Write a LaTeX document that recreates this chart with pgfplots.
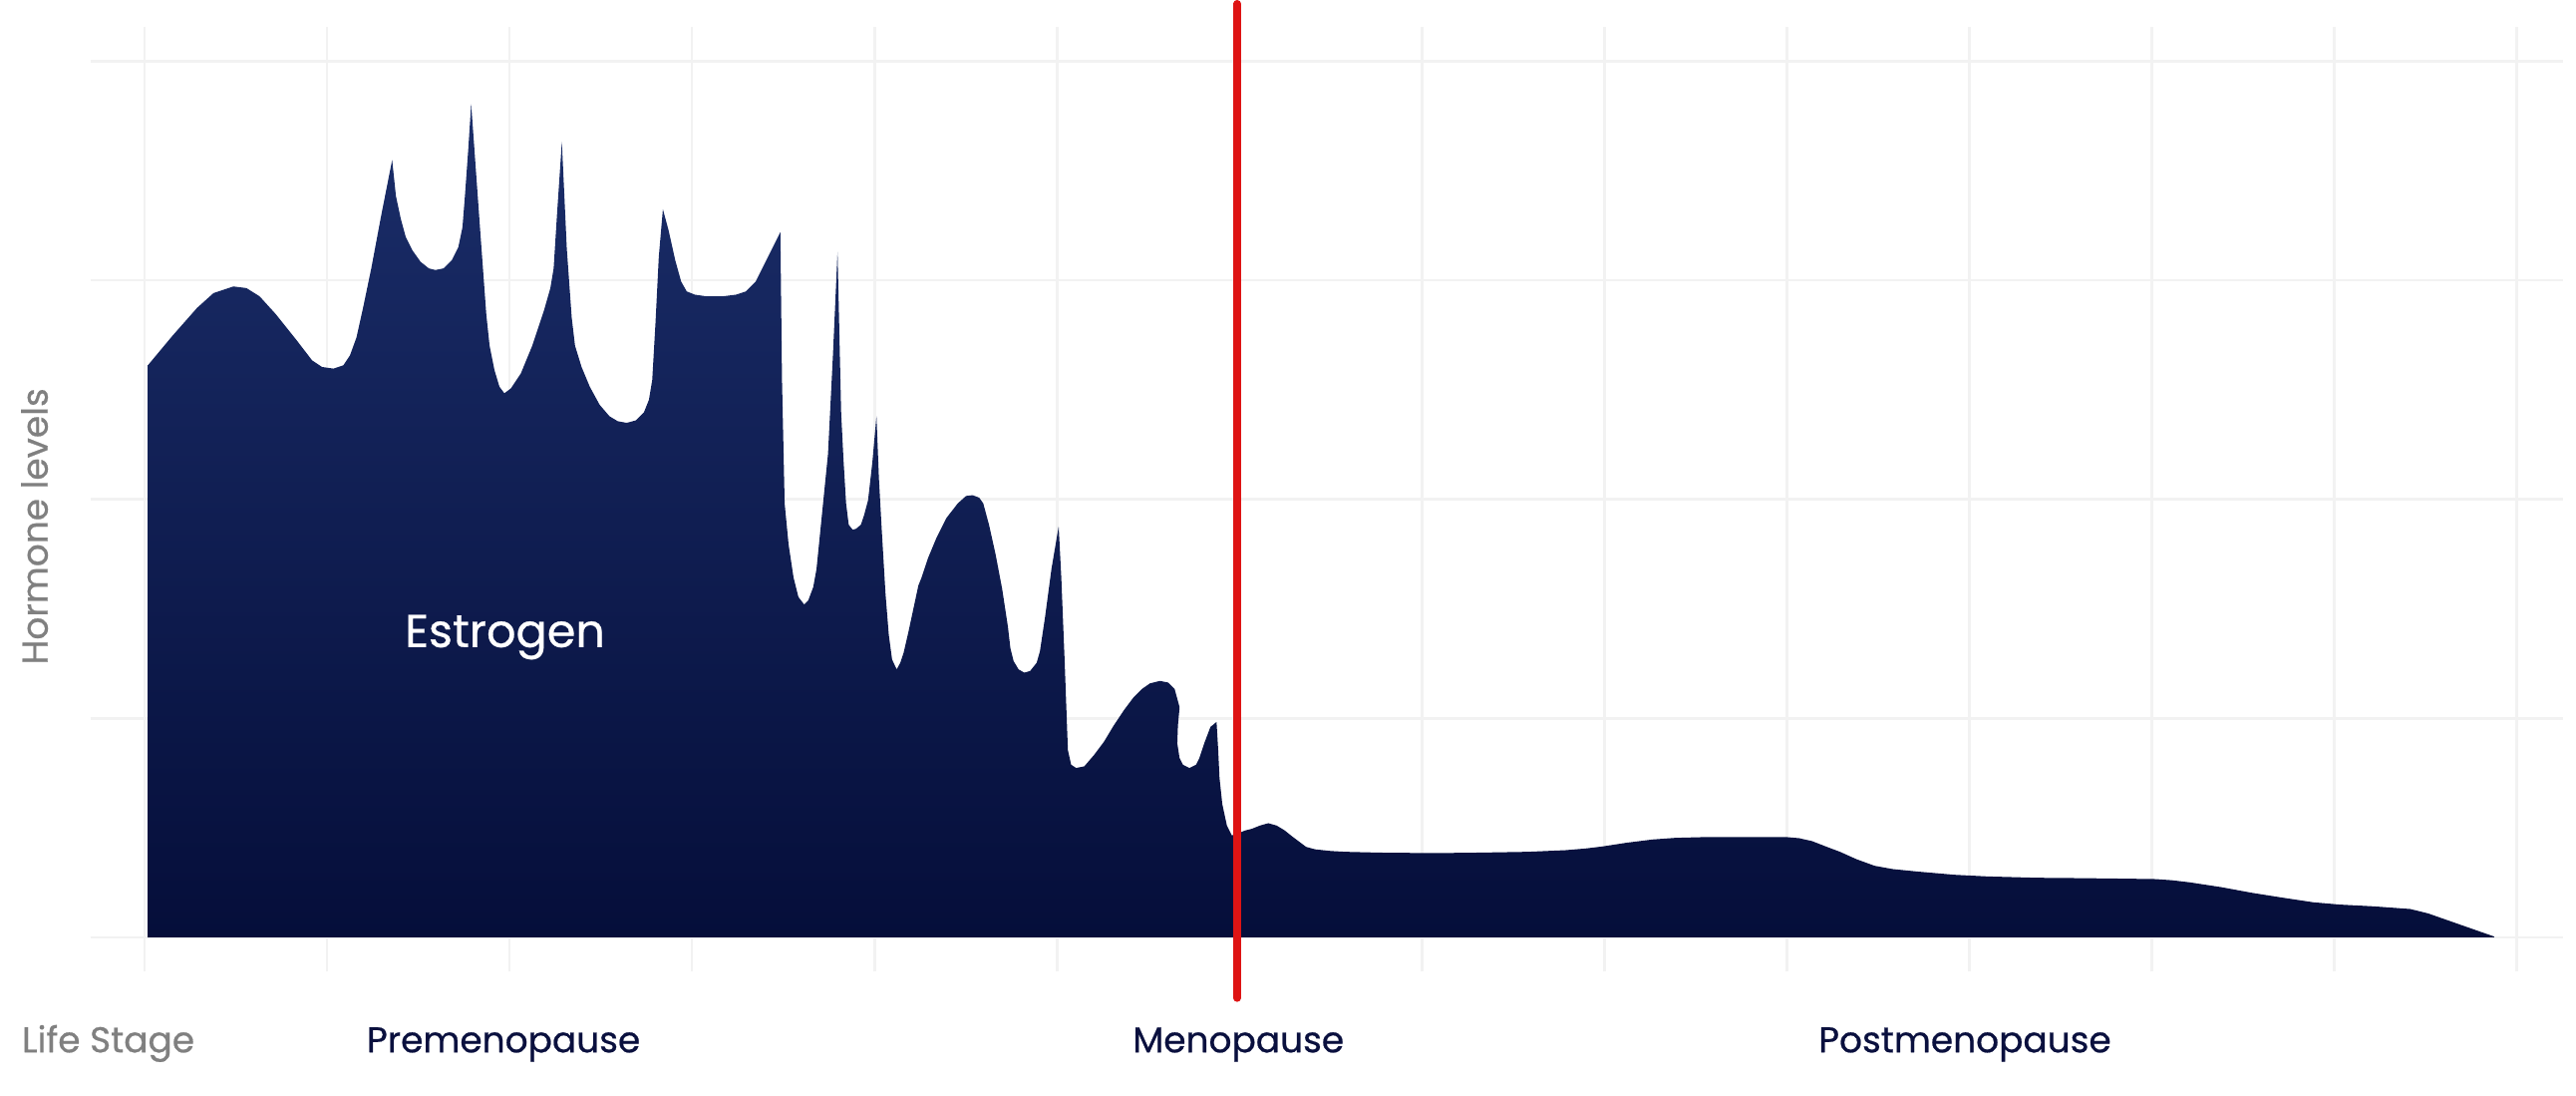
\documentclass[border=0pt]{standalone}
\usepackage{pgfplots}
\pgfplotsset{compat=1.18}
\usepackage{fontspec}
\setmainfont{Poppins}[FakeBold=0.6]

\definecolor{navytop}{RGB}{27,46,106}
\definecolor{navymid}{RGB}{22,38,96}
\definecolor{navybot}{RGB}{5,14,58}
\definecolor{labelnavy}{RGB}{10,16,62}
\definecolor{gridgray}{RGB}{242,242,242}
\definecolor{menored}{RGB}{222,20,20}

\begin{document}
\begin{tikzpicture}
\begin{axis}[
    x=0.5pt, y=0.5pt,
    xmin=55, xmax=1560,
    ymin=-21, ymax=554,
    clip=false,
    axis line style={draw=none},
    tick style={draw=none},
    xtick={88,199.1,310.1,421.2,532.3,643.4,754.4,865.5,976.6,1087.7,1198.7,1309.8,1420.9,1532},
    ytick={0,133.25,266.5,399.75,533},
    xticklabels={}, yticklabels={},
    grid=major,
    major grid style={line width=0.8pt, gridgray},
  ]
  % page frame (reference pixel box)
  \path (axis cs:0,569) rectangle (axis cs:1568,-96);

  % estrogen curve (x: position, y: level)
  \addplot[draw=none, top color=navytop, middle color=navymid, bottom color=navybot]
  coordinates {
    (90,0) (90,348) (105,366) (120,383) (130,392) (142,396) (150,395) (158,390)
    (168,379) (180,364) (190,351) (196,347) (203,346) (209,348) (213,354) (217,365)
    (221,383) (226,407) (232,439) (238.7,473)
    (241,451) (244,437) (247,426) (251,418) (256,411) (261,407) (265,406) (270,407)
    (275,412) (279,420) (281.5,432) (283,451) (285,479) (286.8,507)
    (292,434) (296,379) (298,360) (301,345) (304,335) (307,331) (311,334) (317,343)
    (324,360) (331,381) (335,395) (337,407) (339,439) (342,484)
    (345,419) (348,377) (350,360) (354,347) (359,335) (365,324) (371,317) (376,314)
    (381.5,313) (387,314.5) (392,319.5) (395,327) (397,339) (399,374) (401,414) (403.5,443)
    (407,430) (411,412) (414.6,399) (418,393) (423,391) (430,390) (440,390) (448,391)
    (454,393) (460,399) (467,413) (475,429)
    (476,339) (477.6,264) (480,239) (483,219) (486,207) (489.5,202.5) (492,205) (495,213)
    (497,224) (500,254) (504,294) (507,354) (509.8,417)
    (512,319) (513.4,291) (515,264) (516.6,251) (519,248) (521,248.5) (524,251) (526,257)
    (528.4,266) (531,289) (533.5,317)
    (535,279) (536.7,248) (539,209) (541,184) (543,169) (545.8,163) (548,167) (550,173)
    (553,186) (556,200) (559,214) (561,219) (565,231) (570,243) (576,255) (583,264)
    (588,268.5) (592,269) (596,267.5) (598.5,264) (602,251) (606,233) (610,212) (613.5,189)
    (615,176) (617,168) (620,163) (623.5,161) (627,162) (631,167) (633,174) (636,194)
    (640,224) (644.4,250)
    (646,219) (648,169) (650,114) (652,105) (655,103) (660,104) (666,111) (672,119)
    (678,129) (684,138) (690,146) (695,151) (700,154.5) (706,156) (711,155) (715,151)
    (718,140) (717,129) (716.6,118) (718,109) (720,105) (724,103) (728,105) (730,109)
    (733,118) (736.8,128) (740.5,131)
    (741.5,114) (742.3,97) (744,81) (746.8,68) (749.8,62) (753,63) (758,65) (762,66)
    (767,68) (772,69.4) (777,68) (782,65) (787,61) (791,58) (795,55) (800.5,53.5)
    (810,52.5) (819,52) (840,51.5) (873,51.2) (900,51.5) (930,52) (953,53) (965,54)
    (975,55.2) (990,57.5) (1006,59.5) (1020,60.5) (1039,61) (1060,61) (1087,61) (1095,60.3)
    (1103,58.5) (1112,55) (1120,52) (1130,47.5) (1141,43.5) (1152,41.5) (1167,40) (1190,38)
    (1210,37) (1240,36.2) (1264,36) (1290,35.7) (1312,35.4) (1322,34.7) (1333,33.4) (1352,30.5)
    (1371,27) (1390,24) (1408,21.3) (1424,19.9) (1445,18.8) (1467,17.2) (1472,16) (1478,14.5)
    (1518,0.5) (1518,0)
  } -- cycle;

  % menopause marker
  \addplot[menored, line width=2.3pt, line cap=round] coordinates {(753,568) (753,-37)};

  \node[white, font=\fontsize{14}{16}\selectfont, anchor=base] at (axis cs:307.4,176.6) {Estrogen};
  \node[gray, font=\fontsize{10.9}{13}\selectfont, rotate=90, anchor=center] at (axis cs:21,250) {Hormone levels};
  \node[gray, font=\fontsize{10.9}{13}\selectfont, anchor=base west, inner sep=0pt] at (axis cs:13,-70) {Life Stage};
  \node[labelnavy, font=\fontsize{10.9}{13}\selectfont, anchor=base] at (axis cs:306.5,-70) {Premenopause};
  \node[labelnavy, font=\fontsize{10.9}{13}\selectfont, anchor=base] at (axis cs:753.8,-70) {Menopause};
  \node[labelnavy, font=\fontsize{10.9}{13}\selectfont, anchor=base] at (axis cs:1196,-70) {Postmenopause};
\end{axis}
\end{tikzpicture}
\end{document}
